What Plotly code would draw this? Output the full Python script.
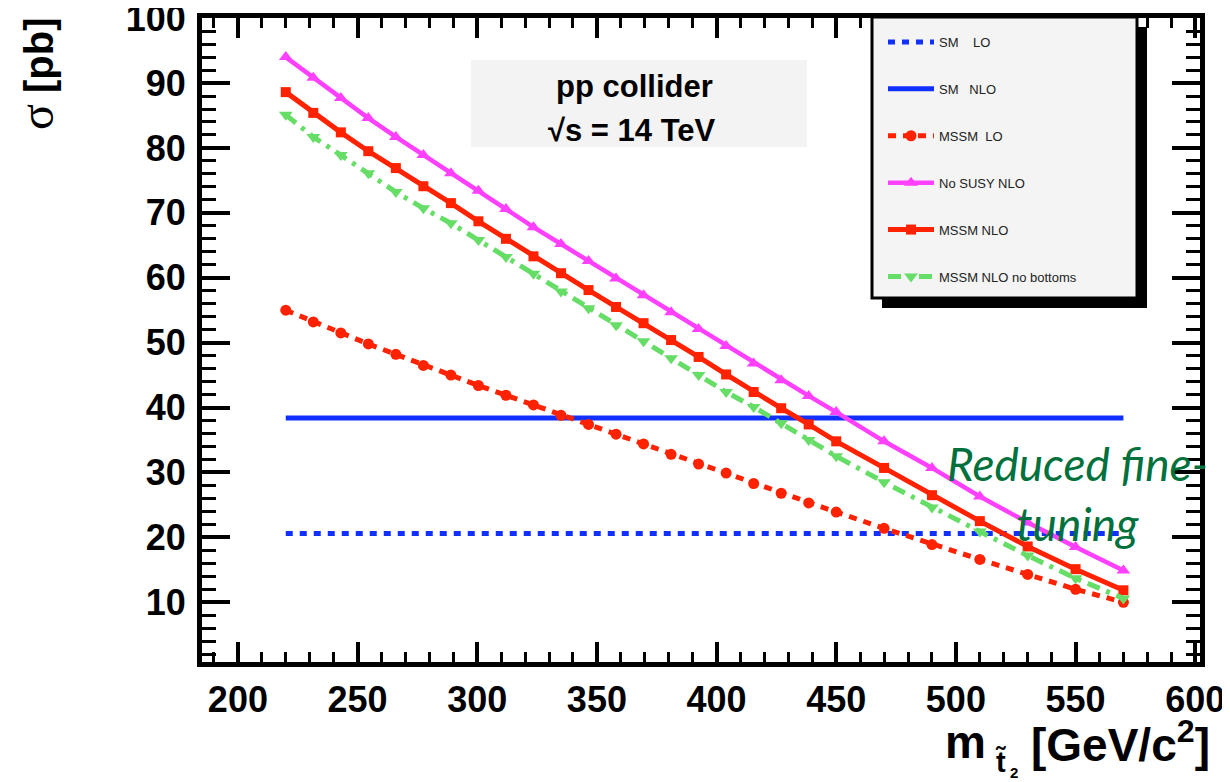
import plotly.graph_objects as go

# ---------------- data ----------------
x_mass = [220, 231.5, 243, 254.5, 266, 277.5, 289, 300.5, 312, 323.5, 335, 346.5,
          358, 369.5, 381, 392.5, 404, 415.5, 427, 438.5, 450, 470, 490, 510, 530, 550, 570]
x_sm = [220, 570]
sm_lo = [20.6, 20.6]
sm_nlo = [38.4, 38.4]
mssm_lo = [55.0, 53.2, 51.5, 49.8, 48.2, 46.5, 45.0, 43.4, 41.9, 40.4, 38.8, 37.4, 35.9,
           34.4, 32.8, 31.3, 29.9, 28.3, 26.8, 25.3, 23.9, 21.4, 18.9, 16.6, 14.3, 12.0, 10.0]
nosusy_nlo = [94.0, 90.8, 87.7, 84.6, 81.7, 78.9, 76.1, 73.4, 70.6, 67.8, 65.2, 62.6, 59.9,
              57.3, 54.7, 52.1, 49.5, 46.8, 44.2, 41.8, 39.3, 34.8, 30.7, 26.3, 22.3, 18.5, 14.9]
mssm_nlo = [88.6, 85.4, 82.4, 79.5, 76.9, 74.1, 71.5, 68.7, 66.0, 63.3, 60.7, 58.1, 55.5,
            53.0, 50.4, 47.8, 45.1, 42.4, 39.9, 37.4, 34.8, 30.7, 26.5, 22.5, 18.6, 15.1, 11.85]
mssm_nlo_nob = [85.1, 81.7, 78.9, 76.1, 73.2, 70.7, 68.4, 65.8, 63.2, 60.6, 57.9, 55.3, 52.7,
                50.2, 47.6, 45.0, 42.4, 40.1, 37.6, 35.0, 32.5, 28.5, 24.6, 20.9, 17.2, 13.7, 10.6]

legend_names = ["SM\u00a0\u00a0\u00a0\u00a0LO", "SM\u00a0\u00a0\u00a0NLO", "MSSM\u00a0\u00a0LO",
                "No SUSY NLO", "MSSM NLO", "MSSM NLO no bottoms"]
x_ticks = [200, 250, 300, 350, 400, 450, 500, 550, 600]
y_ticks = [10, 20, 30, 40, 50, 60, 70, 80, 90, 100]

# ---------------- layout geometry (page pixels; body has an 8px margin) ----------------
OFF = 8
W, H = 1230 - OFF, 782 - OFF
L = 202 - OFF
R = W - (1200 - OFF)
T = 18 - OFF
B = H - (662 - OFF)
PW, PH = W - L - R, H - T - B


def px(v):
    return (v - OFF - L) / PW


def py(v):
    return (H - B - (v - OFF)) / PH


BLUE = "#1030ff"
RED = "#ff2200"
MAG = "#ff40ff"
GREEN = "#66dd66"

fig = go.Figure()
fig.add_trace(go.Scatter(x=x_sm, y=sm_lo, mode="lines", name=legend_names[0], legendgroup="a",
                         line=dict(color=BLUE, width=5, dash="7px,7px")))
fig.add_trace(go.Scatter(x=x_sm, y=sm_nlo, mode="lines", name=legend_names[1], legendgroup="b",
                         line=dict(color=BLUE, width=5)))
fig.add_trace(go.Scatter(x=x_mass, y=mssm_lo, mode="lines+markers", name=legend_names[2], legendgroup="c",
                         line=dict(color=RED, width=5, dash="8px,7px"),
                         marker=dict(symbol="circle", size=11, color=RED)))
fig.add_trace(go.Scatter(x=x_mass, y=nosusy_nlo, mode="lines+markers", name=legend_names[3], legendgroup="d",
                         line=dict(color=MAG, width=4.5),
                         marker=dict(symbol="triangle-up", size=12, color=MAG)))
fig.add_trace(go.Scatter(x=x_mass, y=mssm_nlo, mode="lines+markers", name=legend_names[4], legendgroup="e",
                         line=dict(color=RED, width=5),
                         marker=dict(symbol="square", size=10, color=RED)))
fig.add_trace(go.Scatter(x=x_mass, y=mssm_nlo_nob, mode="lines+markers", name=legend_names[5], legendgroup="f",
                         line=dict(color=GREEN, width=5, dash="13px,7px,4px,7px"),
                         marker=dict(symbol="triangle-down", size=12, color=GREEN)))

tickfont = dict(family="Liberation Sans", size=36, color="black", weight="bold")

fig.update_layout(
    width=W, height=H,
    margin=dict(l=L, r=R, t=T, b=B, pad=0, autoexpand=False),
    paper_bgcolor="white", plot_bgcolor="white",
    showlegend=True,
    legend=dict(x=px(883), y=py(27), xanchor="left", yanchor="top",
                bgcolor="rgba(0,0,0,0)", borderwidth=0,
                font=dict(family="Liberation Sans", size=13, color="#222222"),
                tracegroupgap=27, itemwidth=46, traceorder="grouped"),
    xaxis=dict(range=[185, 602], tickvals=x_ticks, ticktext=[str(v) for v in x_ticks],
               automargin=False, ticklabeloverflow="allow",
               showgrid=False, zeroline=False, showline=True, linecolor="black", linewidth=5,
               mirror="allticks", ticks="inside", ticklen=20, tickwidth=4, tickcolor="black",
               minor=dict(dtick=10, ticks="inside", ticklen=10, tickwidth=3, tickcolor="black", showgrid=False),
               tickfont=tickfont, ticklabelstandoff=2),
    yaxis=dict(range=[0.8, 100.02], tickvals=y_ticks, ticktext=[str(v) for v in y_ticks],
               automargin=False, ticklabeloverflow="allow",
               showgrid=False, zeroline=False, showline=True, linecolor="black", linewidth=5,
               mirror="allticks", ticks="inside", ticklen=28, tickwidth=4, tickcolor="black",
               minor=dict(dtick=2, ticks="inside", ticklen=14, tickwidth=3, tickcolor="black", showgrid=False),
               tickfont=tickfont, ticklabelstandoff=4),
    shapes=[
        # legend shadow and box
        dict(type="rect", xref="paper", yref="paper", x0=px(882), x1=px(1147), y0=py(308), y1=py(27),
             fillcolor="black", line=dict(width=0), layer="above"),
        dict(type="rect", xref="paper", yref="paper", x0=px(872), x1=px(1137), y0=py(298), y1=py(17),
             fillcolor="#f4f4f4", line=dict(color="black", width=3), layer="above"),
        # title box
        dict(type="rect", xref="paper", yref="paper", x0=px(471), x1=px(807), y0=py(147), y1=py(60),
             fillcolor="#f3f3f3", line=dict(width=0), layer="below"),
    ],
)

ann = []
ann.append(dict(text="pp collider", x=px(634), y=py(87), xref="paper", yref="paper",
                showarrow=False, xanchor="center", yanchor="middle",
                font=dict(family="Liberation Sans", size=31, color="black", weight="bold")))
ann.append(dict(text="\u221as = 14 TeV", x=px(632), y=py(130), xref="paper", yref="paper",
                showarrow=False, xanchor="center", yanchor="middle",
                font=dict(family="Liberation Sans", size=31, color="black", weight="bold")))
ann.append(dict(text="<i>Reduced fine-<br>tuning</i>", x=px(1077), y=py(493), xref="paper", yref="paper",
                showarrow=False, xanchor="center", yanchor="middle", align="center",
                font=dict(family="Lato", size=46, color="#00703c")))
# y-axis title
ann.append(dict(text="<span style=\"font-family:Liberation Serif;font-weight:normal;font-size:48px\">\u03c3</span> [pb]",
                x=px(36), y=py(74), xref="paper", yref="paper", textangle=-90,
                showarrow=False, xanchor="center", yanchor="middle",
                font=dict(family="Liberation Sans", size=40, color="black", weight="bold")))
# x-axis title
ann.append(dict(text="m", x=px(943), y=py(742), xref="paper", yref="paper",
                showarrow=False, xanchor="left", yanchor="middle",
                font=dict(family="Liberation Sans", size=46, color="black", weight="bold")))
ann.append(dict(text="t\u0303", x=px(993), y=py(762), xref="paper", yref="paper",
                showarrow=False, xanchor="left", yanchor="middle",
                font=dict(family="Liberation Sans", size=29, color="black", weight="bold")))
ann.append(dict(text="2", x=px(1008), y=py(773), xref="paper", yref="paper",
                showarrow=False, xanchor="left", yanchor="middle",
                font=dict(family="Liberation Sans", size=15, color="black", weight="bold")))
ann.append(dict(text="[GeV/c<sup>2</sup>]", x=px(1212), y=py(742), xref="paper", yref="paper",
                showarrow=False, xanchor="right", yanchor="middle",
                font=dict(family="Liberation Sans", size=46, color="black", weight="bold")))
fig.update_layout(annotations=ann)

fig.write_html("out.html")
